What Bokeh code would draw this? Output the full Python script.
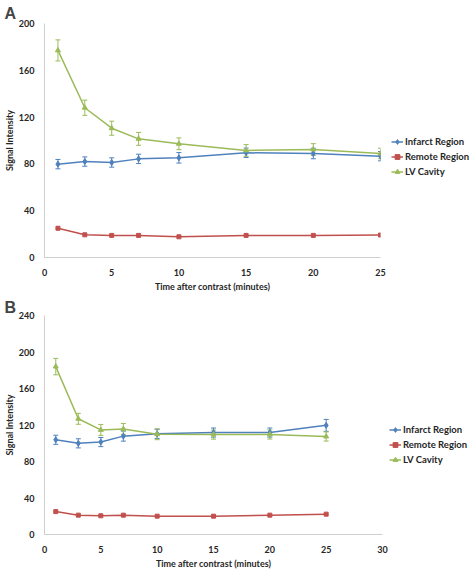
from bokeh.plotting import figure
from bokeh.layouts import column
from bokeh.models import (ColumnDataSource, Range1d, FixedTicker, Whisker, TeeHead,
                          Legend, LegendItem)
from bokeh.embed import file_html
from bokeh.resources import INLINE

# ---------------- data ----------------
time_a = [1, 3, 5, 7, 10, 15, 20, 25]
infarct_a = [79.8, 82.0, 81.2, 84.3, 85.2, 89.5, 88.9, 86.6]
infarct_a_err = [4.0, 4.0, 4.0, 4.0, 4.5, 4.0, 4.5, 4.0]
remote_a = [25.0, 19.4, 18.9, 18.9, 17.7, 18.9, 18.9, 19.2]
lv_a = [177.0, 128.0, 110.5, 101.4, 97.2, 91.5, 92.3, 88.9]
lv_a_err = [9.0, 6.5, 6.0, 5.5, 5.0, 5.0, 5.0, 4.5]

time_b = [1, 3, 5, 7, 10, 15, 20, 25]
infarct_b = [103.8, 99.9, 101.3, 107.8, 110.3, 111.7, 111.7, 119.6]
infarct_b_err = [5.0, 5.0, 5.0, 5.5, 5.0, 5.0, 5.0, 6.5]
remote_b = [25.1, 21.2, 20.5, 21.2, 20.1, 20.1, 21.2, 22.3]
lv_b = [184.0, 126.8, 114.6, 115.7, 109.9, 109.5, 109.6, 107.4]
lv_b_err = [9.0, 6.0, 6.0, 6.0, 6.0, 5.0, 5.0, 5.0]

ticks_x_a = [0, 5, 10, 15, 20, 25]
ticks_x_b = [0, 5, 10, 15, 20, 25, 30]
ticks_y_a = [0, 40, 80, 120, 160, 200]
ticks_y_b = [0, 40, 80, 120, 160, 200, 240]

series_names = ["Infarct Region", "Remote Region", "LV Cavity"]
BLUE, RED, GREEN = "#4F81BD", "#C0504D", "#9BBB59"
FONT = "Lato"
TXT = "#262626"
AXIS = "#CFCFCF"


def make_panel(letter, t, infarct, infarct_err, remote, lv, lv_err,
               x_ticks, y_ticks, top, title_gap, frame_h, frame_w, legend_loc):
    p = figure(output_backend="svg", toolbar_location=None,
               x_range=Range1d(0, x_ticks[-1]), y_range=Range1d(0, y_ticks[-1]),
               min_border_left=0, min_border_top=top, min_border_bottom=0,
               min_border_right=0,
               frame_width=frame_w, frame_height=frame_h)
    p.outline_line_color = None
    p.grid.grid_line_color = None
    p.background_fill_color = "white"
    p.border_fill_color = "white"

    p.title.text = letter
    p.title.text_font = "Liberation Sans"
    p.title.text_font_style = "bold"
    p.title.text_font_size = "16px"
    p.title.align = "left"
    p.title.offset = -40
    p.title.standoff = title_gap

    for ax in (p.xaxis[0], p.yaxis[0]):
        ax.axis_line_color = AXIS
        ax.axis_line_width = 1
        ax.major_tick_line_color = None
        ax.minor_tick_line_color = None
        ax.major_label_text_font = FONT
        ax.major_label_text_font_style = "bold"
        ax.major_label_text_font_size = "9px"
        ax.major_label_text_color = TXT
        ax.axis_label_text_font = FONT
        ax.axis_label_text_font_style = "bold"
        ax.axis_label_text_font_size = "9px"
        ax.axis_label_text_color = TXT
    p.xaxis.ticker = FixedTicker(ticks=x_ticks)
    p.yaxis.ticker = FixedTicker(ticks=y_ticks)
    p.xaxis.axis_label = "Time after contrast (minutes)"
    p.yaxis.axis_label = "Signal Intensity"
    p.xaxis.major_label_standoff = 5
    p.xaxis.axis_label_standoff = 2
    p.yaxis.major_label_standoff = 4
    p.yaxis.axis_label_standoff = 1

    items = []
    specs = [(infarct, infarct_err, BLUE, "diamond", 6),
             (remote, None, RED, "square", 4),
             (lv, lv_err, GREEN, "triangle", 5)]
    for name, (vals, err, col, mk, sz) in zip(series_names, specs):
        src = ColumnDataSource(dict(x=t, y=vals))
        if err is not None:
            esrc = ColumnDataSource(dict(x=t,
                                         lo=[v - e for v, e in zip(vals, err)],
                                         hi=[v + e for v, e in zip(vals, err)]))
            w = Whisker(base="x", lower="lo", upper="hi", source=esrc,
                        line_color=col, line_width=1,
                        upper_head=TeeHead(size=5, line_color=col, line_width=1),
                        lower_head=TeeHead(size=5, line_color=col, line_width=1))
            p.add_layout(w)
        ln = p.line("x", "y", source=src, line_color=col, line_width=1.5)
        sc = p.scatter("x", "y", source=src, marker=mk, size=sz,
                       fill_color=col, line_color=col)
        items.append(LegendItem(label=name, renderers=[ln, sc]))

    leg = Legend(items=items, location=legend_loc)
    leg.border_line_color = None
    leg.background_fill_alpha = 0
    leg.label_text_font = FONT
    leg.label_text_font_style = "bold"
    leg.label_text_font_size = "9.5px"
    leg.label_text_color = TXT
    leg.glyph_width = 12
    leg.glyph_height = 15
    leg.label_height = 15
    leg.label_standoff = 2
    leg.spacing = 0
    leg.padding = 0
    leg.margin = 0
    p.add_layout(leg, "right")
    return p


pa = make_panel("A", time_a, infarct_a, infarct_a_err, remote_a, lv_a, lv_a_err,
                ticks_x_a, ticks_y_a, top=19, title_gap=4, frame_h=234, frame_w=336,
                legend_loc=(11, 78))
pb = make_panel("B", time_b, infarct_b, infarct_b_err, remote_b, lv_b, lv_b_err,
                ticks_x_b, ticks_y_b, top=21, title_gap=0, frame_h=219, frame_w=338,
                legend_loc=(7, 67))

layout = column(pa, pb, spacing=0)
open("out.html", "w").write(file_html(layout, INLINE))
